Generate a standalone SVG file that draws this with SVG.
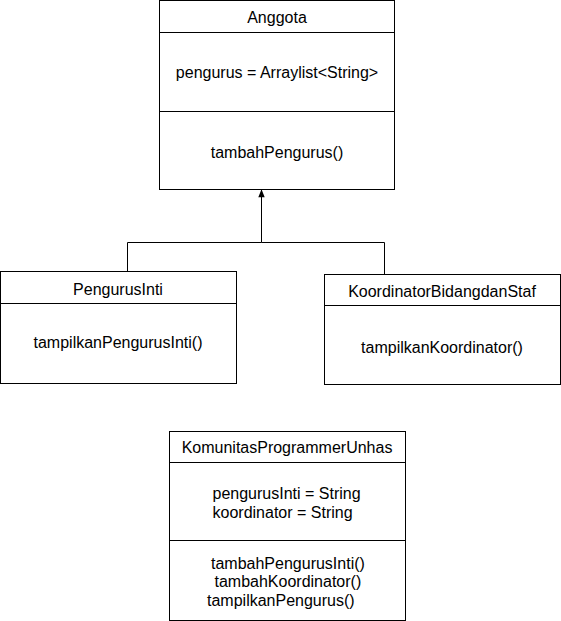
<svg xmlns="http://www.w3.org/2000/svg" width="561" height="621" viewBox="0 0 561 621">
<style>
.box{fill:#fff;stroke:#000;stroke-width:1}
.ln{stroke:#000;stroke-width:1;fill:none}
text{font-family:"Liberation Sans",Arial,sans-serif;font-size:16px;fill:#000}
.c{text-anchor:middle}
</style>
<defs>
<marker id="arr" viewBox="0 0 10 10" refX="9" refY="5" markerWidth="9" markerHeight="8" orient="auto" markerUnits="userSpaceOnUse">
<path d="M0,1 L10,5 L0,9 Z" fill="#000"/>
</marker>
</defs>
<rect width="561" height="621" fill="#fff"/>
<g id="connectors">
<path class="ln" d="M127.5,271 V242.5 H261.5"/>
<path class="ln" d="M384.5,274 V242.5 H261.5 V190" marker-end="url(#arr)"/>
</g>
<g id="anggota">
<rect class="box" x="159.5" y="0.5" width="235" height="189"/>
<line class="ln" x1="159.5" y1="32.5" x2="394.5" y2="32.5"/>
<line class="ln" x1="159.5" y1="111.5" x2="394.5" y2="111.5"/>
<text class="c" x="277" y="23">Anggota</text>
<text class="c" x="277" y="78">pengurus = Arraylist&lt;String&gt;</text>
<text class="c" x="277" y="158">tambahPengurus()</text>
</g>
<g id="pengurusInti">
<rect class="box" x="0.5" y="271.5" width="236" height="112"/>
<line class="ln" x1="0.5" y1="303.5" x2="236.5" y2="303.5"/>
<text class="c" x="118" y="295">PengurusInti</text>
<text class="c" x="118" y="348">tampilkanPengurusInti()</text>
</g>
<g id="koordinator">
<rect class="box" x="324.5" y="274.5" width="236" height="110"/>
<line class="ln" x1="324.5" y1="305.5" x2="560.5" y2="305.5"/>
<text class="c" x="442" y="297">KoordinatorBidangdanStaf</text>
<text class="c" x="442" y="353">tampilkanKoordinator()</text>
</g>
<g id="komunitas">
<rect class="box" x="169.5" y="431.5" width="236" height="189"/>
<line class="ln" x1="169.5" y1="462.5" x2="405.5" y2="462.5"/>
<line class="ln" x1="169.5" y1="540.5" x2="405.5" y2="540.5"/>
<text class="c" x="287" y="453">KomunitasProgrammerUnhas</text>
<text x="212.5" y="499">pengurusInti = String</text>
<text x="212.5" y="518">koordinator = String</text>
<text x="211" y="569">tambahPengurusInti()</text>
<text x="214.5" y="587">tambahKoordinator()</text>
<text x="207" y="606">tampilkanPengurus()</text>
</g>
</svg>
